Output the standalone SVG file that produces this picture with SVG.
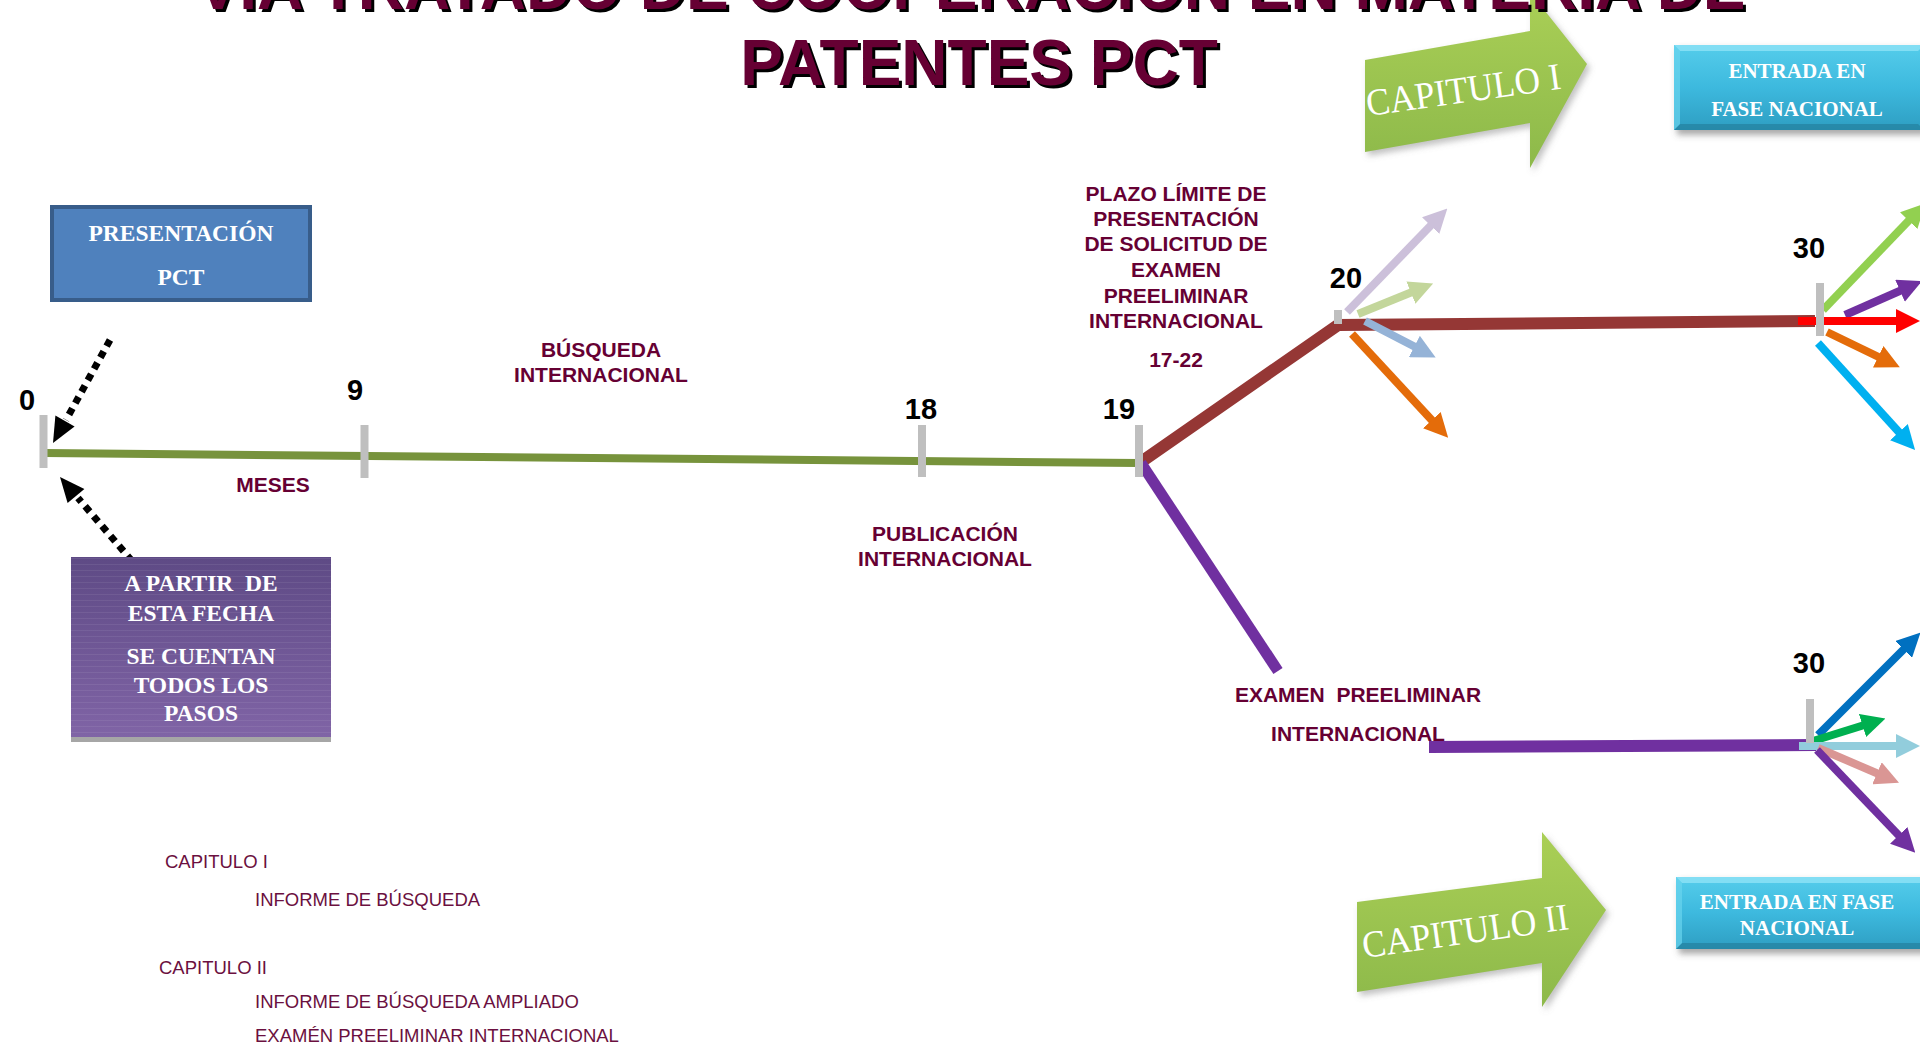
<svg xmlns="http://www.w3.org/2000/svg" width="1920" height="1047" viewBox="0 0 1920 1047">
<defs>
<style>
.title{font-family:"Liberation Sans",Arial,sans-serif;font-weight:bold;font-size:64px;text-anchor:middle}
.lbl{font-family:"Liberation Sans",Arial,sans-serif;font-weight:bold;font-size:21px;fill:#660033;text-anchor:middle}
.num{font-family:"Liberation Sans",Arial,sans-serif;font-weight:bold;font-size:29px;fill:#000;text-anchor:middle}
.note{font-family:"Liberation Sans",Arial,sans-serif;font-size:18.5px;fill:#6B1040}
.box{font-family:"Liberation Serif","Times New Roman",serif;font-weight:bold;fill:#fff;text-anchor:middle}
.cap{font-family:"Liberation Serif","Times New Roman",serif;font-size:38px;fill:#fff}
.tick{fill:#BFBFBF}
.arr{fill:none;stroke-width:8}
.dots{fill:none;stroke:#000;stroke-width:7;stroke-dasharray:7 6}
</style>
<linearGradient id="gGreen" x1="0" y1="0" x2="0" y2="1">
<stop offset="0" stop-color="#AACF56"/><stop offset="1" stop-color="#8DB94A"/>
</linearGradient>
<linearGradient id="gPurple" x1="0" y1="0" x2="0" y2="1">
<stop offset="0" stop-color="#5E4A85"/><stop offset="1" stop-color="#8064A6"/>
</linearGradient>
<linearGradient id="gCyan" x1="0" y1="0" x2="0" y2="1">
<stop offset="0" stop-color="#55CDEB"/><stop offset="0.5" stop-color="#3DB9DE"/><stop offset="1" stop-color="#2E9EC2"/>
</linearGradient>
<pattern id="stripes" width="10" height="6" patternUnits="userSpaceOnUse">
<rect x="0" y="0" width="10" height="1" fill="#ffffff" fill-opacity="0.07"/>
</pattern>
<filter id="shadow" x="-10%" y="-10%" width="130%" height="140%">
<feGaussianBlur stdDeviation="3"/>
</filter>
<marker id="mLav" markerUnits="userSpaceOnUse" markerWidth="24" markerHeight="24" viewBox="0 0 24 24" refX="12" refY="12" orient="auto"><path d="M0,0 L24,12 L0,24 z" fill="#CCC0DA"/></marker>
<marker id="mLg" markerUnits="userSpaceOnUse" markerWidth="24" markerHeight="24" viewBox="0 0 24 24" refX="12" refY="12" orient="auto"><path d="M0,0 L24,12 L0,24 z" fill="#C3D69B"/></marker>
<marker id="mBg" markerUnits="userSpaceOnUse" markerWidth="24" markerHeight="24" viewBox="0 0 24 24" refX="12" refY="12" orient="auto"><path d="M0,0 L24,12 L0,24 z" fill="#95B3D7"/></marker>
<marker id="mOr" markerUnits="userSpaceOnUse" markerWidth="24" markerHeight="24" viewBox="0 0 24 24" refX="12" refY="12" orient="auto"><path d="M0,0 L24,12 L0,24 z" fill="#E46C0A"/></marker>
<marker id="mGr" markerUnits="userSpaceOnUse" markerWidth="24" markerHeight="24" viewBox="0 0 24 24" refX="12" refY="12" orient="auto"><path d="M0,0 L24,12 L0,24 z" fill="#92D050"/></marker>
<marker id="mPu" markerUnits="userSpaceOnUse" markerWidth="24" markerHeight="24" viewBox="0 0 24 24" refX="12" refY="12" orient="auto"><path d="M0,0 L24,12 L0,24 z" fill="#7030A0"/></marker>
<marker id="mRd" markerUnits="userSpaceOnUse" markerWidth="24" markerHeight="24" viewBox="0 0 24 24" refX="12" refY="12" orient="auto"><path d="M0,0 L24,12 L0,24 z" fill="#FF0000"/></marker>
<marker id="mCy" markerUnits="userSpaceOnUse" markerWidth="24" markerHeight="24" viewBox="0 0 24 24" refX="12" refY="12" orient="auto"><path d="M0,0 L24,12 L0,24 z" fill="#00B0F0"/></marker>
<marker id="mBl" markerUnits="userSpaceOnUse" markerWidth="24" markerHeight="24" viewBox="0 0 24 24" refX="12" refY="12" orient="auto"><path d="M0,0 L24,12 L0,24 z" fill="#0070C0"/></marker>
<marker id="mGn" markerUnits="userSpaceOnUse" markerWidth="24" markerHeight="24" viewBox="0 0 24 24" refX="12" refY="12" orient="auto"><path d="M0,0 L24,12 L0,24 z" fill="#00B050"/></marker>
<marker id="mLb" markerUnits="userSpaceOnUse" markerWidth="24" markerHeight="24" viewBox="0 0 24 24" refX="12" refY="12" orient="auto"><path d="M0,0 L24,12 L0,24 z" fill="#92CDDC"/></marker>
<marker id="mPk" markerUnits="userSpaceOnUse" markerWidth="24" markerHeight="24" viewBox="0 0 24 24" refX="12" refY="12" orient="auto"><path d="M0,0 L24,12 L0,24 z" fill="#DA9694"/></marker>
</defs>
<rect width="1920" height="1047" fill="#ffffff"/>

<!-- green chapter arrows -->
<g id="capitulo1">
<polygon points="1368,64 1533,35 1533,-4 1590,68 1533,172 1533,127 1368,156" fill="#777" fill-opacity="0.45" filter="url(#shadow)"/>
<polygon points="1365,60 1530,31 1530,-8 1587,64 1530,168 1530,123 1365,152" fill="url(#gGreen)"/>
<text class="cap" x="1368" y="116" transform="rotate(-8 1368 116)" textLength="196" lengthAdjust="spacingAndGlyphs">CAPITULO I</text>
</g>
<g id="capitulo2">
<polygon points="1360,906 1545,882 1545,836 1609,914 1545,1011 1545,967 1360,996" fill="#777" fill-opacity="0.45" filter="url(#shadow)"/>
<polygon points="1357,902 1542,878 1542,832 1606,910 1542,1007 1542,963 1357,992" fill="url(#gGreen)"/>
<text class="cap" x="1364" y="958" transform="rotate(-8 1364 958)" textLength="208" lengthAdjust="spacingAndGlyphs">CAPITULO II</text>
</g>

<!-- title -->
<g id="title">
<text class="title" x="974" y="12" fill="#000">VIA TRATADO DE COOPERACIÓN EN MATERIA DE</text>
<text class="title" x="971" y="9" fill="#660033">VIA TRATADO DE COOPERACIÓN EN MATERIA DE</text>
<text class="title" x="982" y="88" fill="#000">PATENTES PCT</text>
<text class="title" x="979" y="85" fill="#660033">PATENTES PCT</text>
</g>

<!-- connectors -->
<g id="connectors">
<line x1="45" y1="453" x2="1139" y2="463" stroke="#77933C" stroke-width="8"/>
<polyline points="1141,462 1338,325 1815,321" fill="none" stroke="#953735" stroke-width="12" stroke-linejoin="miter"/>
<line x1="1141" y1="463" x2="1278" y2="671" stroke="#7030A0" stroke-width="11"/>
<line x1="1429" y1="747" x2="1816" y2="745" stroke="#7030A0" stroke-width="12"/>

<line class="arr" x1="1347" y1="312" x2="1439" y2="217" stroke="#CCC0DA" marker-end="url(#mLav)"/>
<line class="arr" x1="1358" y1="314" x2="1422" y2="288" stroke="#C3D69B" marker-end="url(#mLg)"/>
<line class="arr" x1="1365" y1="321" x2="1425" y2="352" stroke="#95B3D7" marker-end="url(#mBg)"/>
<line class="arr" x1="1352" y1="334" x2="1440" y2="429" stroke="#E46C0A" marker-end="url(#mOr)"/>

<line class="arr" x1="1823" y1="310" x2="1917" y2="212" stroke="#92D050" marker-end="url(#mGr)"/>
<line class="arr" x1="1845" y1="315" x2="1911" y2="286" stroke="#7030A0" marker-end="url(#mPu)"/>
<line class="arr" x1="1798" y1="321" x2="1908" y2="321" stroke="#FF0000" marker-end="url(#mRd)"/>
<line class="arr" x1="1827" y1="332" x2="1889" y2="362" stroke="#E46C0A" marker-end="url(#mOr)"/>
<line class="arr" x1="1818" y1="343" x2="1907" y2="441" stroke="#00B0F0" marker-end="url(#mCy)"/>

<line class="arr" x1="1818" y1="735" x2="1912" y2="641" stroke="#0070C0" marker-end="url(#mBl)"/>
<line class="arr" x1="1813" y1="741" x2="1874" y2="722" stroke="#00B050" marker-end="url(#mGn)"/>
<line class="arr" x1="1799" y1="746" x2="1908" y2="746" stroke="#92CDDC" marker-end="url(#mLb)"/>
<line class="arr" x1="1818" y1="748" x2="1888" y2="778" stroke="#DA9694" marker-end="url(#mPk)"/>
<line class="arr" x1="1817" y1="750" x2="1907" y2="844" stroke="#7030A0" marker-end="url(#mPu)"/>

<line class="dots" x1="110" y1="340" x2="66" y2="420"/>
<polygon points="53,443 55.4,415.6 74.6,426.4" fill="#000"/>
<line class="dots" x1="132" y1="561" x2="78" y2="498"/>
<polygon points="60,477 84.4,488.9 67.6,503.1" fill="#000"/>
</g>

<!-- ticks and numbers -->
<g id="ticks">
<rect class="tick" x="39.5" y="415" width="8" height="53"/>
<rect class="tick" x="360.5" y="425" width="8" height="53"/>
<rect class="tick" x="918" y="425" width="8" height="52"/>
<rect class="tick" x="1135" y="425" width="8" height="52"/>
<rect class="tick" x="1334" y="310" width="8" height="14"/>
<rect class="tick" x="1816" y="283" width="8" height="53"/>
<rect class="tick" x="1806" y="699" width="8" height="44"/>
</g>
<g id="numbers">
<text class="num" x="27" y="410">0</text>
<text class="num" x="355" y="400">9</text>
<text class="num" x="921" y="419">18</text>
<text class="num" x="1119" y="419">19</text>
<text class="num" x="1346" y="288">20</text>
<text class="num" x="1809" y="258">30</text>
<text class="num" x="1809" y="673">30</text>
</g>

<!-- labels -->
<g id="label-busqueda">
<text class="lbl" x="601" y="357">BÚSQUEDA</text>
<text class="lbl" x="601" y="382">INTERNACIONAL</text>
</g>
<g id="label-meses"><text class="lbl" x="273" y="492">MESES</text></g>
<g id="label-publicacion">
<text class="lbl" x="945" y="541">PUBLICACIÓN</text>
<text class="lbl" x="945" y="566">INTERNACIONAL</text>
</g>
<g id="label-plazo">
<text class="lbl" x="1176" y="201">PLAZO LÍMITE DE</text>
<text class="lbl" x="1176" y="226">PRESENTACIÓN</text>
<text class="lbl" x="1176" y="251">DE SOLICITUD DE</text>
<text class="lbl" x="1176" y="277">EXAMEN</text>
<text class="lbl" x="1176" y="303">PREELIMINAR</text>
<text class="lbl" x="1176" y="328">INTERNACIONAL</text>
<text class="lbl" x="1176" y="367">17-22</text>
</g>
<g id="label-examen">
<text class="lbl" x="1358" y="702" xml:space="preserve">EXAMEN  PREELIMINAR</text>
<text class="lbl" x="1358" y="741">INTERNACIONAL</text>
</g>

<!-- boxes -->
<g id="presentacion">
<rect x="52" y="207" width="258" height="93" fill="#4F81BD" stroke="#385D8A" stroke-width="4"/>
<text class="box" x="181" y="241" font-size="23.5">PRESENTACIÓN</text>
<text class="box" x="181" y="285" font-size="23.5">PCT</text>
</g>
<g id="a-partir">
<rect x="71" y="557" width="260" height="181" fill="url(#gPurple)"/>
<rect x="71" y="557" width="260" height="181" fill="url(#stripes)"/>
<rect x="71" y="737" width="260" height="5" fill="#A6A6A6"/>
<text class="box" x="201" y="591" font-size="23.5" xml:space="preserve">A PARTIR  DE</text>
<text class="box" x="201" y="621" font-size="23.5">ESTA FECHA</text>
<text class="box" x="201" y="664" font-size="23.5">SE CUENTAN</text>
<text class="box" x="201" y="693" font-size="23.5">TODOS LOS</text>
<text class="box" x="201" y="721" font-size="23.5">PASOS</text>
</g>
<g id="entrada1">
<rect x="1677" y="49" width="250" height="86" fill="#555" fill-opacity="0.5" filter="url(#shadow)"/>
<rect x="1674" y="45" width="250" height="85" fill="url(#gCyan)"/>
<polygon points="1674,45 1924,45 1918,51 1680,51" fill="#8FE2F6" fill-opacity="0.8"/>
<polygon points="1674,130 1924,130 1918,124 1680,124" fill="#23809E" fill-opacity="0.7"/>
<polygon points="1674,45 1680,51 1680,124 1674,130" fill="#6AD4EE" fill-opacity="0.7"/>
<text class="box" x="1797" y="78" font-size="21">ENTRADA EN</text>
<text class="box" x="1797" y="116" font-size="21">FASE NACIONAL</text>
</g>
<g id="entrada2">
<rect x="1679" y="881" width="250" height="73" fill="#555" fill-opacity="0.5" filter="url(#shadow)"/>
<rect x="1676" y="877" width="250" height="72" fill="url(#gCyan)"/>
<polygon points="1676,877 1926,877 1920,883 1682,883" fill="#8FE2F6" fill-opacity="0.8"/>
<polygon points="1676,949 1926,949 1920,943 1682,943" fill="#23809E" fill-opacity="0.7"/>
<polygon points="1676,877 1682,883 1682,943 1676,949" fill="#6AD4EE" fill-opacity="0.7"/>
<text class="box" x="1797" y="909" font-size="21">ENTRADA EN FASE</text>
<text class="box" x="1797" y="935" font-size="21">NACIONAL</text>
</g>

<!-- notes -->
<g id="notes">
<text class="note" x="165" y="868">CAPITULO I</text>
<text class="note" x="255" y="906">INFORME DE BÚSQUEDA</text>
<text class="note" x="159" y="974">CAPITULO II</text>
<text class="note" x="255" y="1008">INFORME DE BÚSQUEDA AMPLIADO</text>
<text class="note" x="255" y="1042">EXAMÉN PREELIMINAR INTERNACIONAL</text>
</g>
</svg>
